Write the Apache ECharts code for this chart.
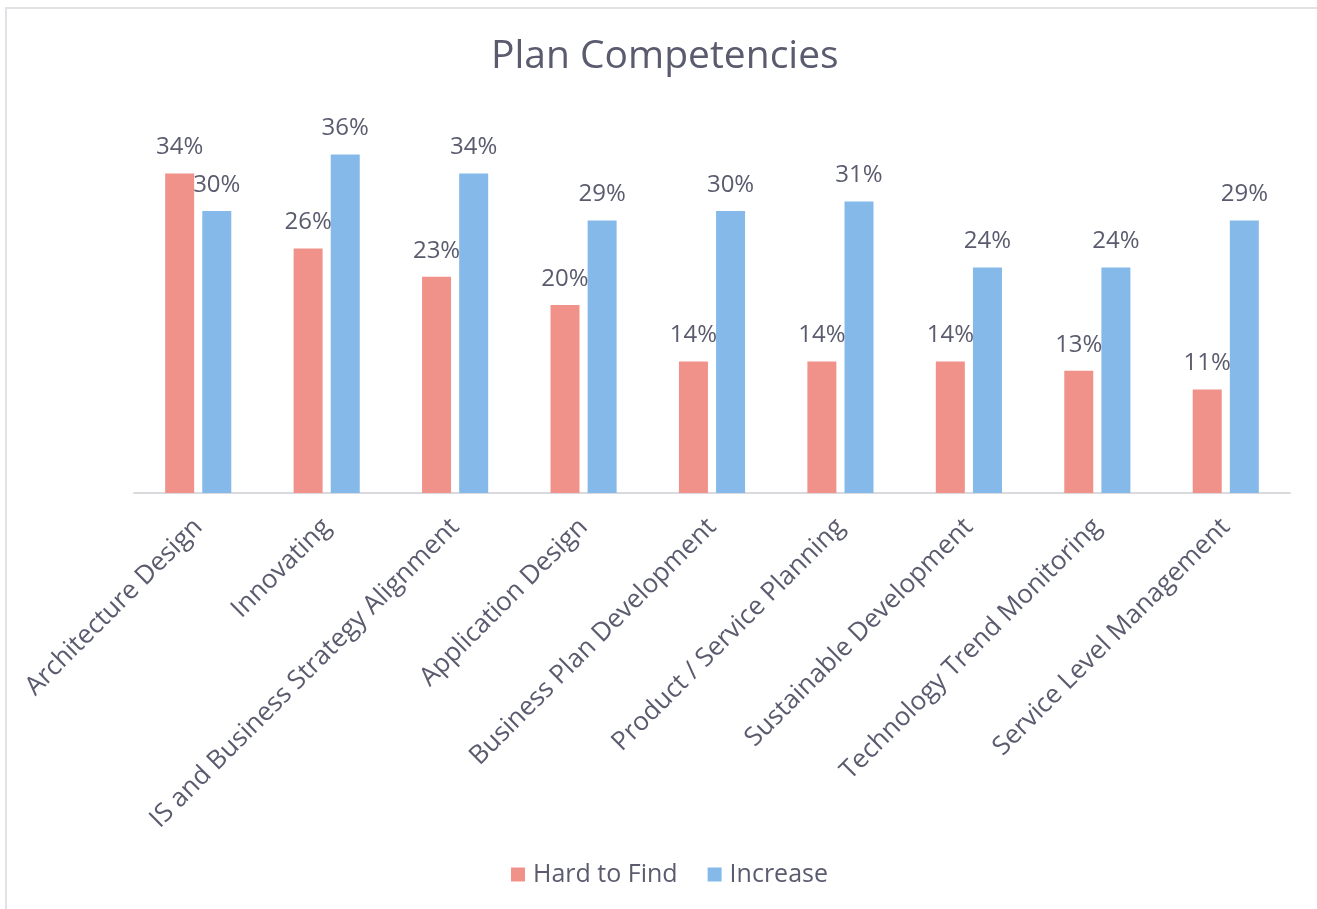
<!DOCTYPE html>
<html>
<head>
<meta charset="utf-8">
<title>Plan Competencies</title>
<script src="https://cdn.jsdelivr.net/npm/echarts@6/dist/echarts.min.js"></script>
<style>
  html, body { margin: 0; padding: 0; background: #ffffff; }
  #frame { position: absolute; left: 0; top: 0; width: 1317px; height: 909px; }
  #edge-top { position: absolute; left: 5px; top: 7px; width: 1312px; height: 2px; background: #e1e1e6; }
  #edge-left { position: absolute; left: 5px; top: 7px; width: 2px; height: 902px; background: #e1e1e6; }
  #chart { position: absolute; left: 0; top: 0; width: 1317px; height: 909px; }
</style>
</head>
<body>
<div id="frame">
  <div id="chart"></div>
  <div id="edge-top"></div>
  <div id="edge-left"></div>
</div>
<script>
// Competency categories and the share of respondents for each measure (%)
const categories = [
  'Architecture Design',
  'Innovating',
  'IS and Business Strategy Alignment',
  'Application Design',
  'Business Plan Development',
  'Product / Service Planning',
  'Sustainable Development',
  'Technology Trend Monitoring',
  'Service Level Management'
];
const hardToFind = [34, 26, 23, 20, 14, 14, 14, 13, 11];
const increase   = [30, 36, 34, 29, 30, 31, 24, 24, 29];
const seriesNames = ['Hard to Find', 'Increase'];

const textColor = '#5a5b6e';
const fontFamily = '"Open Sans", "Noto Sans", sans-serif';

const chart = echarts.init(document.getElementById('chart'), null, { renderer: 'canvas' });

const labelStyle = {
  show: true,
  position: 'top',
  distance: 14,
  formatter: p => p.value + '%',
  color: textColor,
  fontSize: 24,
  fontFamily: fontFamily
};

chart.setOption({
  backgroundColor: 'transparent',
  animation: false,
  title: {
    text: 'Plan Competencies',
    left: 486,
    top: 32,
    textStyle: { color: textColor, fontSize: 39, fontWeight: 'normal', fontFamily: fontFamily }
  },
  legend: {
    data: seriesNames,
    bottom: 17,
    left: 506,
    icon: 'rect',
    itemWidth: 14,
    itemHeight: 14,
    itemGap: 30,
    textStyle: { color: textColor, fontSize: 25, fontFamily: fontFamily, padding: [0, 0, 0, 3] }
  },
  grid: { left: 134, right: 27, top: 117, bottom: 416, containLabel: false },
  xAxis: {
    type: 'category',
    data: categories,
    axisLine: { lineStyle: { color: '#d9d9de', width: 2 } },
    axisTick: { show: false },
    axisLabel: {
      rotate: 45,
      interval: 0,
      margin: 30,
      color: textColor,
      fontSize: 26,
      fontFamily: fontFamily
    }
  },
  yAxis: {
    type: 'value',
    min: 0,
    max: 40,
    show: false,
    splitLine: { show: false }
  },
  series: [
    {
      name: seriesNames[0],
      type: 'bar',
      data: hardToFind,
      barWidth: 29,
      barGap: '28%',
      itemStyle: { color: '#f1928a' },
      label: labelStyle
    },
    {
      name: seriesNames[1],
      type: 'bar',
      data: increase,
      barWidth: 29,
      barGap: '28%',
      itemStyle: { color: '#84b9ea' },
      label: labelStyle
    }
  ]
});
</script>
</body>
</html>
